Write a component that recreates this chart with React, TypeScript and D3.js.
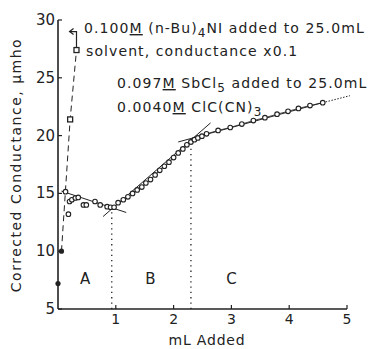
import * as d3 from "d3";

// region A (open circles, before first break)
const aX = [0.13, 0.18, 0.2, 0.24, 0.3, 0.35, 0.44, 0.49, 0.64, 0.73, 0.85, 0.91, 0.97];
const aY = [15.15, 13.2, 14.3, 14.45, 14.6, 14.65, 14.0, 14.0, 14.3, 14.0, 13.85, 13.8, 13.8];
// region B
const bX = [1.04, 1.13, 1.21, 1.29, 1.37, 1.45, 1.52, 1.6, 1.68, 1.76, 1.84, 1.92, 2.0, 2.08, 2.16, 2.23, 2.3];
const bY = [14.2, 14.45, 14.7, 15.0, 15.3, 15.55, 15.9, 16.2, 16.6, 17.0, 17.35, 17.7, 18.1, 18.5, 18.85, 19.2, 19.45];
// region C
const cX = [2.36, 2.42, 2.49, 2.57, 2.77, 2.98, 3.18, 3.38, 3.58, 3.79, 3.98, 4.16, 4.36, 4.58];
const cY = [19.65, 19.8, 19.95, 20.15, 20.45, 20.7, 21.0, 21.3, 21.55, 21.85, 22.1, 22.35, 22.6, 22.85];
// (n-Bu)4NI run, conductance x0.1
const nbX = [0.06, 0.21, 0.32];
const nbY = [10, 21.4, 27.4];
const nbTopY = 29.0;
const firstX = 0;
const firstY = 7.2;
// fitted straight lines [x0, y0, x1, y1]
const fitA = [0.06, 15.2, 1.18, 13.35];
const fitB = [0.78, 13.0, 2.64, 21.1];
const fitC = [2.08, 19.45, 4.58, 22.85];
const fitCEnd = [4.58, 22.85, 5.05, 23.45];
const breaks = [
  [0.93, 13.8],
  [2.3, 19.5],
];
const xTicks = [1, 2, 3, 4, 5];
const yTicks = [5, 10, 15, 20, 25, 30];
const regions = [
  ["A", 0.47],
  ["B", 1.6],
  ["C", 3.0],
];

const FONT = "DejaVu Sans";
const INK = "#222";
const LS = 1.1;

export default function App() {
  const x = d3.scaleLinear().domain([0, 5]).range([58, 347]);
  const y = d3.scaleLinear().domain([5, 30]).range([309, 20]);
  const line = d3.line<[number, number]>().x((d) => x(d[0])).y((d) => y(d[1]));

  const pts = (xs: number[], ys: number[]) => xs.map((v, i) => [v, ys[i]] as [number, number]);
  const seg = (f: number[]) => line([[f[0], f[1]], [f[2], f[3]]]) ?? "";

  const nb = pts(nbX, nbY);
  const last = nb[nb.length - 1];

  return (
    <svg width={368} height={349} style={{ position: "absolute", left: 0, top: 0, background: "#fff" }}>
      <g fontFamily={FONT} fill={INK}>
        {/* axes */}
        <line x1={x(0)} x2={x(0)} y1={y(5)} y2={y(30)} stroke={INK} strokeWidth={1.6} />
        <line x1={x(0)} x2={x(5)} y1={y(5)} y2={y(5)} stroke={INK} strokeWidth={1.6} />
        {yTicks.map((t) => (
          <g key={t}>
            <line x1={x(0)} x2={x(0) + 4} y1={y(t)} y2={y(t)} stroke={INK} strokeWidth={1.2} />
            <text x={x(0) - 3} y={y(t) + 5} fontSize={15} textAnchor="end">{t}</text>
          </g>
        ))}
        {xTicks.map((t) => (
          <g key={t}>
            <line x1={x(t)} x2={x(t)} y1={y(5)} y2={y(5) - 4} stroke={INK} strokeWidth={1.2} />
            <text x={x(t)} y={y(5) + 15} fontSize={14} textAnchor="middle">{t}</text>
          </g>
        ))}
        <text x={207} y={345} fontSize={14} letterSpacing={0.8} textAnchor="middle">mL Added</text>
        <text transform="translate(21,165) rotate(-90)" fontSize={14} letterSpacing={1.5} textAnchor="middle">
          Corrected Conductance,  μmho
        </text>

        {/* breaks */}
        {breaks.map((b, i) => (
          <line key={i} x1={x(b[0])} x2={x(b[0])} y1={y(5)} y2={y(b[1])} stroke={INK} strokeWidth={1.3} strokeDasharray="1.3,4" />
        ))}

        {/* fitted lines */}
        <path d={seg(fitA)} stroke={INK} strokeWidth={1} fill="none" />
        <path d={seg(fitB)} stroke={INK} strokeWidth={1} fill="none" />
        <path d={seg(fitC)} stroke={INK} strokeWidth={1} fill="none" />
        <path d={seg(fitCEnd)} stroke={INK} strokeWidth={1} fill="none" strokeDasharray="1.5,1.5" />

        {/* (n-Bu)4NI dashed curve */}
        <path d={line(nb) ?? ""} stroke={INK} strokeWidth={1} fill="none" strokeDasharray="6,4" />
        <path
          d={`M${x(last[0])},${y(last[1])} L${x(last[0])},${y(nbTopY)} L${x(0.2)},${y(nbTopY)}`}
          stroke={INK}
          strokeWidth={1.2}
          fill="none"
        />
        <path
          d={`M${x(0.2) + 4},${y(nbTopY) - 3} L${x(0.2)},${y(nbTopY)} L${x(0.2) + 4},${y(nbTopY) + 3}`}
          stroke={INK}
          strokeWidth={1.2}
          fill="none"
        />
        {nb.slice(1).map((p, i) => (
          <rect key={i} x={x(p[0]) - 2.5} y={y(p[1]) - 2.5} width={5} height={5} fill="#fff" stroke={INK} strokeWidth={1.3} />
        ))}
        <circle cx={x(nb[0][0])} cy={y(nb[0][1])} r={2.6} fill={INK} />
        <circle cx={x(firstX)} cy={y(firstY)} r={2.6} fill={INK} />

        {/* data chains */}
        {[pts(bX, bY), pts(cX, cY)].map((s, i) => (
          <path key={i} d={line(s) ?? ""} stroke={INK} strokeWidth={0.8} fill="none" />
        ))}
        {[...pts(aX, aY), ...pts(bX, bY), ...pts(cX, cY)].map((p, i) => (
          <circle key={i} cx={x(p[0])} cy={y(p[1])} r={2.3} fill="#fff" stroke={INK} strokeWidth={1.1} />
        ))}

        {regions.map(([l, v]) => (
          <text key={l as string} x={x(v as number)} y={284} fontSize={15} textAnchor="middle">{l}</text>
        ))}

        {/* annotations */}
        <g fontSize={14} letterSpacing={LS}>
          <text x={84} y={33}>
            0.100<tspan textDecoration="underline">M</tspan> (n-Bu)<tspan dy={4} fontSize={12}>4</tspan>
            <tspan dy={-4}>NI  added to 25.0mL</tspan>
          </text>
          <text x={86} y={56}>solvent, conductance x0.1</text>
          <text x={117} y={88}>
            0.097<tspan textDecoration="underline">M</tspan> SbCl<tspan dy={4} fontSize={12}>5</tspan>
            <tspan dy={-4}> added to 25.0mL</tspan>
          </text>
          <text x={117} y={112}>
            0.0040<tspan textDecoration="underline">M</tspan> ClC(CN)<tspan dy={4} fontSize={12}>3</tspan>
          </text>
        </g>
      </g>
    </svg>
  );
}
